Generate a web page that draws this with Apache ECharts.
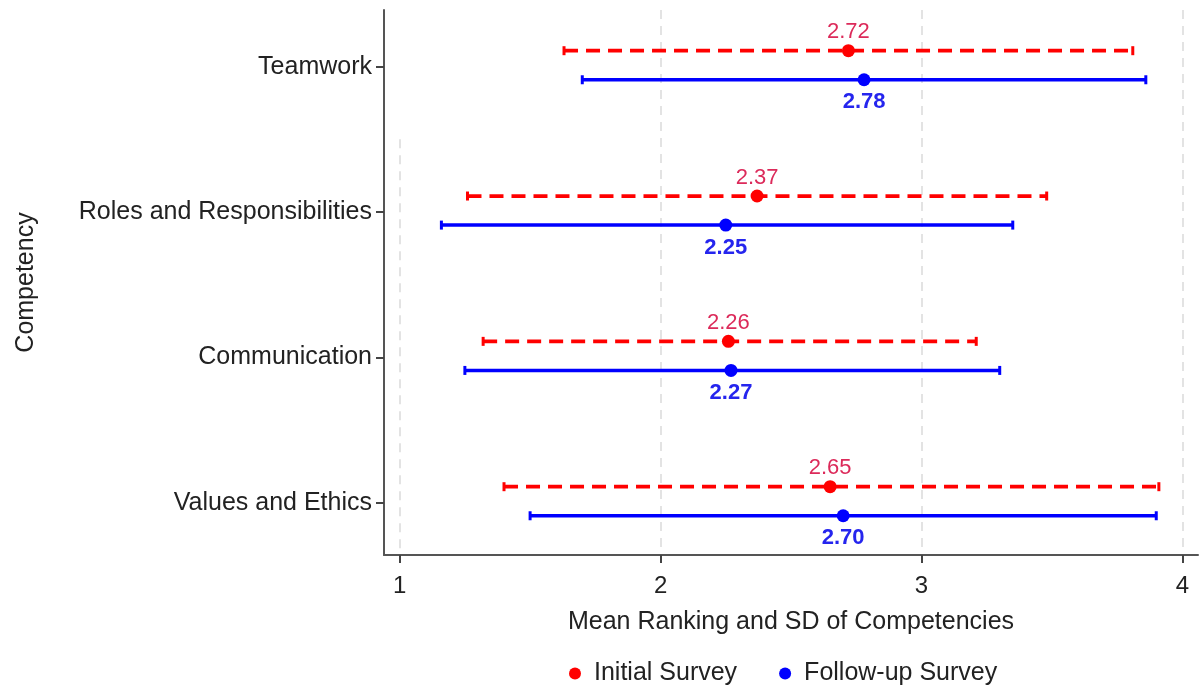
<!DOCTYPE html>
<html>
<head>
<meta charset="utf-8">
<script src="https://cdn.jsdelivr.net/npm/echarts@6/dist/echarts.min.js"></script>
<style>
  html, body { margin: 0; padding: 0; background: #fff; }
  #chart { width: 1201px; height: 689px; }
</style>
</head>
<body>
<div id="chart"></div>
<script>
// competencies, top to bottom
var categories = ['Teamwork', 'Roles and Responsibilities', 'Communication', 'Values and Ethics'];
var xTicks = [1, 2, 3, 4];

// Initial survey: mean and mean ± SD
var initialMean = [2.72, 2.37, 2.26, 2.65];
var initialLow = [1.63, 1.26, 1.32, 1.40];
var initialHigh = [3.81, 3.48, 3.21, 3.91];

// Follow-up survey
var followMean = [2.78, 2.25, 2.27, 2.70];
var followLow = [1.70, 1.16, 1.25, 1.50];
var followHigh = [3.86, 3.35, 3.30, 3.90];

var n = categories.length;
var yPos = categories.map(function (c, i) { return n - i; });
var yMin = 0.64, yMax = 4.39;

function barData(low, high, off) {
  return low.map(function (v, i) { return [v, high[i], yPos[i] + off]; });
}
function meanData(mean, off) {
  return mean.map(function (v, i) { return [v, yPos[i] + off]; });
}

function makeRender(color, width, dash) {
  return function (params, api) {
    var y = api.value(2);
    var a = api.coord([api.value(0), y]);
    var b = api.coord([api.value(1), y]);
    var style = { stroke: color, lineWidth: width, lineDash: dash };
    var cap = { stroke: color, lineWidth: 3 };
    return {
      type: 'group',
      children: [
        { type: 'line', shape: { x1: a[0], y1: a[1], x2: b[0], y2: b[1] }, style: style },
        { type: 'line', shape: { x1: a[0], y1: a[1] - 4.5, x2: a[0], y2: a[1] + 4.5 }, style: cap },
        { type: 'line', shape: { x1: b[0], y1: b[1] - 4.5, x2: b[0], y2: b[1] + 4.5 }, style: cap }
      ]
    };
  };
}

// dashed vertical grid lines (the one at 1 stops short of the top, as in the original)
var gridLines = xTicks.map(function (t) {
  var top = t === 1 ? 3.5 : yMax;
  return [{ coord: [t, top] }, { coord: [t, yMin] }];
});

var chart = echarts.init(document.getElementById('chart'));
var font = 'Liberation Sans, Arial, sans-serif';

chart.setOption({
  animation: false,
  textStyle: { fontFamily: font },
  grid: { left: 384, right: 3, top: 10, bottom: 134 },
  legend: {
    bottom: -2,
    left: 564,
    itemGap: 42,
    itemWidth: 12,
    itemHeight: 12,
    textStyle: { fontSize: 25, color: '#222', fontFamily: font, padding: [0, 0, 0, 8] },
    data: [
      { name: 'Initial Survey', icon: 'circle', itemStyle: { color: '#ff0000' } },
      { name: 'Follow-up Survey', icon: 'circle', itemStyle: { color: '#0000ff' } }
    ]
  },
  xAxis: {
    type: 'value',
    min: 0.94,
    max: 4.06,
    name: 'Mean Ranking and SD of Competencies',
    nameLocation: 'middle',
    nameGap: 55,
    nameTextStyle: { fontSize: 25, color: '#222' },
    axisLine: { show: true, lineStyle: { color: '#555', width: 2 } },
    axisTick: { show: true, length: 8, customValues: xTicks, lineStyle: { color: '#444', width: 2 } },
    axisLabel: { customValues: xTicks, fontSize: 24, color: '#222', margin: 19 },
    splitLine: { show: false }
  },
  yAxis: {
    type: 'value',
    min: yMin,
    max: yMax,
    name: 'Competency',
    nameLocation: 'middle',
    nameRotate: 90,
    nameGap: 345,
    nameTextStyle: { fontSize: 25, color: '#222' },
    axisLine: { show: true, lineStyle: { color: '#555', width: 2 } },
    axisTick: { show: true, length: 8, customValues: yPos, lineStyle: { color: '#444', width: 2 } },
    axisLabel: {
      customValues: yPos,
      fontSize: 25,
      color: '#222',
      margin: 12,
      formatter: function (v) { return categories[n - Math.round(v)]; }
    },
    splitLine: { show: false }
  },
  series: [
    {
      name: 'Initial Survey',
      type: 'custom',
      renderItem: makeRender('#ff0000', 3.7, [14, 8]),
      encode: { x: [0, 1], y: 2 },
      data: barData(initialLow, initialHigh, 0.11),
      markLine: {
        silent: true,
        symbol: 'none',
        label: { show: false },
        lineStyle: { color: '#e3e3e3', type: [9, 7], width: 2 },
        data: gridLines,
        z: 0
      },
      z: 2
    },
    {
      name: 'Follow-up Survey',
      type: 'custom',
      renderItem: makeRender('#0000ff', 3.5, null),
      encode: { x: [0, 1], y: 2 },
      data: barData(followLow, followHigh, -0.09),
      z: 2
    },
    {
      name: 'Initial Survey',
      type: 'scatter',
      symbol: 'circle',
      symbolSize: 13,
      itemStyle: { color: '#ff0000', opacity: 1 },
      label: {
        show: true,
        position: 'top',
        distance: 1,
        fontSize: 22,
        color: '#dc2a5a',
        formatter: function (p) { return p.value[0].toFixed(2); }
      },
      data: meanData(initialMean, 0.11),
      z: 3
    },
    {
      name: 'Follow-up Survey',
      type: 'scatter',
      symbol: 'circle',
      symbolSize: 13,
      itemStyle: { color: '#0000ff', opacity: 1 },
      label: {
        show: true,
        position: 'bottom',
        distance: 5,
        fontSize: 22,
        fontWeight: 'bold',
        color: '#2525ee',
        formatter: function (p) { return p.value[0].toFixed(2); }
      },
      data: meanData(followMean, -0.09),
      z: 3
    }
  ]
});
</script>
</body>
</html>
